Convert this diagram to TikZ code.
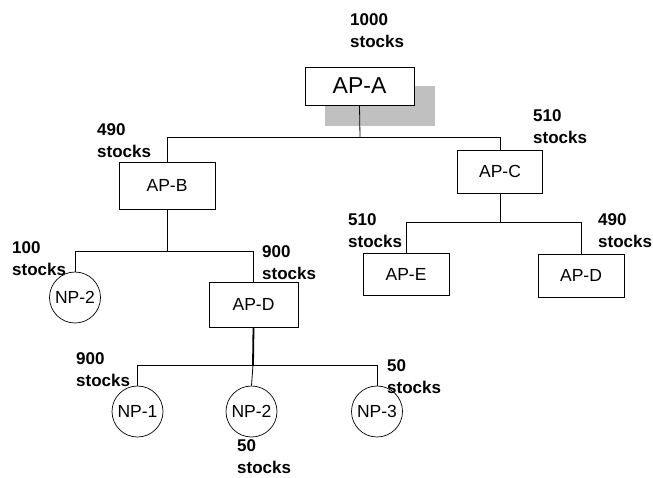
\documentclass[tikz,border=0pt]{standalone}
\usepackage{fontspec}
\setmainfont{Liberation Sans}
\begin{document}
\begin{tikzpicture}[x=1pt,y=-1pt,
  apbox/.style={draw=black,line width=0.9pt,fill=white,inner sep=0pt,font=\fontsize{17.5}{21}\selectfont},
  npcirc/.style={draw=black,line width=0.7pt,fill=white,circle,inner sep=0pt,minimum size=51pt,font=\fontsize{17.5}{21}\selectfont},
  qty/.style={anchor=base west,inner sep=0pt,align=left,font=\fontsize{17}{22}\selectfont\bfseries},
  link/.style={draw=black,line width=0.8pt}]
\useasboundingbox (0,0) rectangle (653,477);
% shadow
\fill[fill={rgb,255:red,192;green,192;blue,192}] (325,86) rectangle (435,126);
% boxes
\node[apbox,minimum width=109pt,minimum height=38pt,font=\fontsize{23}{26}\selectfont] (A) at (359.5,86) {AP-A};
\node[apbox,minimum width=96pt,minimum height=47pt] (B) at (167,185.5) {AP-B};
\node[apbox,minimum width=85pt,minimum height=43pt] (C) at (500,171.5) {AP-C};
\node[apbox,minimum width=89pt,minimum height=45pt] (D1) at (253.5,304.5) {AP-D};
\node[apbox,minimum width=86pt,minimum height=42pt] (E) at (406,274) {AP-E};
\node[apbox,minimum width=86pt,minimum height=43pt] (D2) at (581,275.5) {AP-D};
% circles
\node[npcirc] (N2a) at (75,297.5) {NP-2};
\node[npcirc] (N1) at (137.5,411.5) {NP-1};
\node[npcirc] (N2) at (251.5,411.5) {NP-2};
\node[npcirc] (N3) at (377,411.5) {NP-3};
% connectors
\coordinate (jA) at (360,137);
\coordinate (jB) at (167,251);
\coordinate (jC) at (500,222);
\coordinate (jD) at (253,365);
\draw[link] (A.south) -- (jA);
\draw[link] (jA) -| (B.north);
\draw[link] (jA) -| (C.north);
\draw[link] (B.south) -- (jB);
\draw[link] (jB) -| (N2a.north);
\draw[link] (jB) -| (D1.north);
\draw[link] (C.south) -- (jC);
\draw[link] (jC) -| (E.north);
\draw[link] (jC) -| (D2.north);
\draw[link,line width=1.8pt] (D1.south) -- (jD);
\draw[link] (jD) -| (N1.north);
\draw[link] (jD) -| (N3.north);
\draw[link] (jD) -- (N2.north);
% quantity labels (anchor = baseline of the second line)
\node[qty] (qA) at (350,47) {1000\\stocks};
\node[qty] (qB) at (97,157) {490\\stocks};
\node[qty] (qC) at (533,143) {510\\stocks};
\node[qty] (qN2a) at (12,275) {100\\stocks};
\node[qty] (qD1) at (262,279) {900\\stocks};
\node[qty] (qE) at (348,247) {510\\stocks};
\node[qty] (qD2) at (598,247) {490\\stocks};
\node[qty] (qN1) at (76,386) {900\\stocks};
\node[qty] (qN3) at (387,393) {50\\stocks};
\node[qty] (qN2) at (237,473) {50\\stocks};
\end{tikzpicture}
\end{document}
